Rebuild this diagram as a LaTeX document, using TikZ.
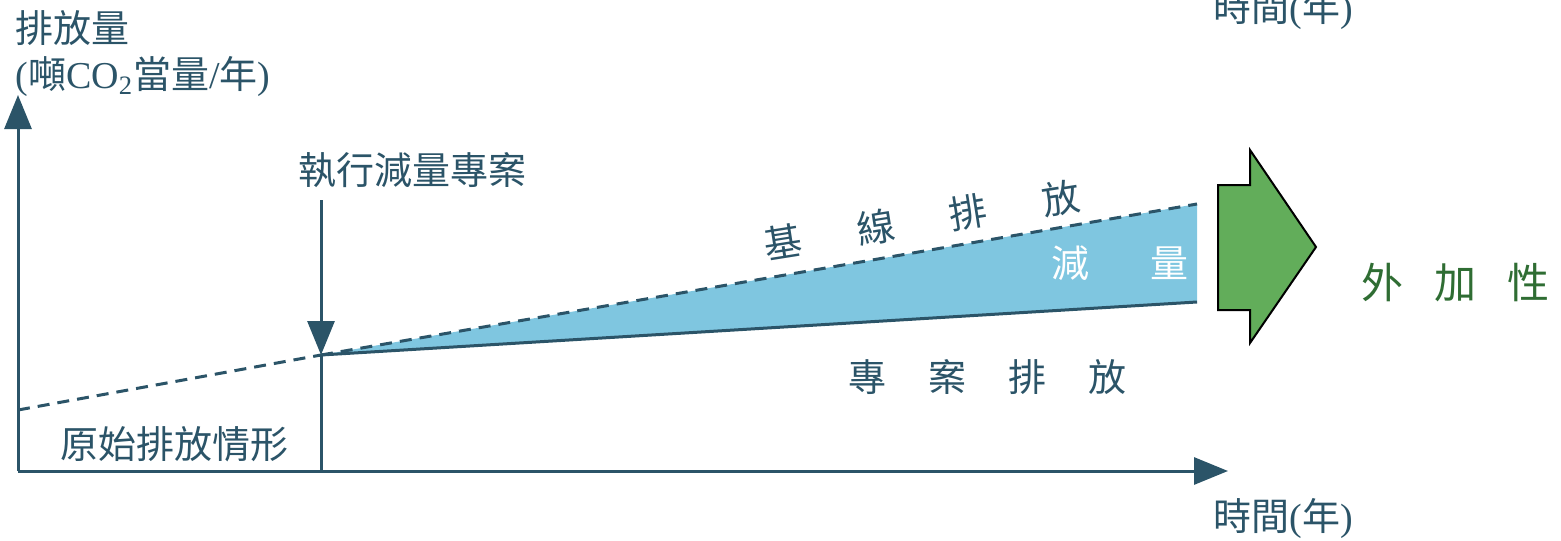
\documentclass[tikz,border=0pt]{standalone}
\usepackage{fontspec}
\setmainfont{Liberation Serif}
\newfontfamily\cjk{Noto Sans CJK TC}
\usetikzlibrary{arrows.meta}
\definecolor{ink}{HTML}{2B5468}
\definecolor{fillblue}{HTML}{7FC6E0}
\definecolor{agreen}{HTML}{62AD5A}
\definecolor{tgreen}{HTML}{2F6D33}
\begin{document}
\begin{tikzpicture}[x=0.5pt,y=-0.5pt,
  axis/.style={draw=ink, line width=1.5pt},
  tipped/.style={-{Triangle[length=17pt,width=13.5pt]}},
  lbl/.style={text=ink, font=\fontsize{19}{22}\selectfont, inner sep=0pt},
  dashline/.style={draw=ink, line width=1.5pt, dash pattern=on 6pt off 4pt},
  bigarrow/.style={draw=black, fill=agreen, line width=1pt, line join=miter}]
\useasboundingbox (0,0) rectangle (1561,540);
% coordinates
\coordinate (O) at (18,471);
\coordinate (Ytop) at (18,95);
\coordinate (Xend) at (1228,471);
\coordinate (Vtop) at (321,200);
\coordinate (Vbot) at (321,471);
\coordinate (S) at (321,355);
\coordinate (L0) at (18,410);
\coordinate (B1) at (1197,204);
\coordinate (P1) at (1197,302);
% reduction area
\fill[fillblue] (S) -- (B1) -- (P1) -- cycle;
% baseline & project lines
\draw[dashline] (L0) -- (S);
\draw[dashline] (S) -- (B1);
\draw[axis] (S) -- (P1);
% axes
\draw[axis, tipped] (O) -- (Ytop);
\draw[axis, tipped] (O) -- (Xend);
\draw[axis, tipped] (Vtop) -- (S);
\draw[axis] (S) -- (Vbot);
% big green arrow
\draw[bigarrow] (1218,185) -- (1250,185) -- (1250,150) -- (1316,247) -- (1250,343) -- (1250,310) -- (1218,310) -- cycle;
% labels
\node[lbl, anchor=west] (ylab1) at (15,28) {\cjk 排放量};
\node[lbl, anchor=west] (ylab2) at (15,77) {({\cjk 噸}CO\textsubscript{2}{\cjk 當量}/{\cjk 年})};
\node[lbl] (exec) at (412,170) {\cjk 執行減量專案};
\node[lbl] (orig) at (174,444) {\cjk 原始排放情形};
\node[lbl] (xlab) at (1283,519) {{\cjk 時間}({\cjk 年})};
\node[lbl] (xlabtop) at (1283,10) {{\cjk 時間}({\cjk 年})};
\node[lbl, rotate=9] (base) at (922,220) {\cjk 基\hspace{28pt}線\hspace{28pt}排\hspace{28pt}放};
\node[lbl] (proj) at (987.5,377) {\cjk 專\hspace{21pt}案\hspace{21pt}排\hspace{21pt}放};
\node[lbl, text=white] (red) at (1120,263) {\cjk 減\hspace{31pt}量};
\node[lbl, text=tgreen, font=\fontsize{21}{24}\selectfont] (add) at (1455,283) {\cjk 外\hspace{15.5pt}加\hspace{15.5pt}性};
\end{tikzpicture}
\end{document}
